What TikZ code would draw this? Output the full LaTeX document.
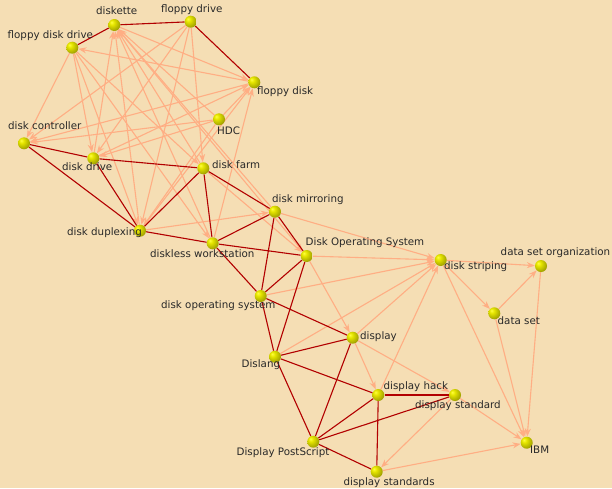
\documentclass[tikz,border=0pt]{standalone}
\usepackage{fontspec}
\setmainfont{DejaVu Sans}
\usetikzlibrary{arrows.meta}
\definecolor{bgc}{RGB}{245,222,180}
\definecolor{redE}{RGB}{178,0,0}
\definecolor{orE}{RGB}{255,174,132}
\definecolor{txt}{RGB}{40,40,40}
\definecolor{ballc}{RGB}{200,200,0}
\pgfdeclareradialshading{yball}{\pgfpoint{-12bp}{12bp}}{color(0bp)=(yellow!75!white); color(10bp)=(yellow!90!black); color(30bp)=(ballc!82!black); color(50bp)=(ballc!50!black); color(70bp)=(ballc!40!black)}
\pgfdeclarelayer{bg}\pgfdeclarelayer{edges}\pgfsetlayers{bg,edges,main}
\begin{document}
\begin{tikzpicture}[x=1pt,y=-1pt,
  vtx/.style={circle,inner sep=0pt,minimum size=12pt,shading=yball},
  lbl/.style={anchor=west,inner sep=0pt,font=\fontsize{10.3}{12}\selectfont,text=txt},
  rl/.style={draw=redE,line width=1.1pt},
  ol/.style={draw=orE,line width=1.1pt,-{Stealth[length=8pt,width=6pt]}}]
\begin{pgfonlayer}{bg}
\fill[bgc] (0,0) rectangle (612,488);
\end{pgfonlayer}
\useasboundingbox (0,0) rectangle (612,488);
% vertices
\node[vtx] (dskt) at (114.3,25) {};
\node[vtx] (fdrv) at (190.7,21.7) {};
\node[vtx] (fdd) at (72.3,47.7) {};
\node[vtx] (fdisk) at (254.3,82.3) {};
\node[vtx] (hdc) at (219,119.3) {};
\node[vtx] (dc) at (24,143.3) {};
\node[vtx] (dd) at (93.3,158.3) {};
\node[vtx] (df) at (203.3,168.3) {};
\node[vtx] (dx) at (140,230.7) {};
\node[vtx] (dw) at (212.7,243.3) {};
\node[vtx] (dm) at (275,211.7) {};
\node[vtx] (DOS) at (306.7,256) {};
\node[vtx] (dstr) at (440.7,260) {};
\node[vtx] (dso) at (541,266) {};
\node[vtx] (ds) at (494.3,313.3) {};
\node[vtx] (ibm) at (526.7,442.7) {};
\node[vtx] (dstd) at (455,395) {};
\node[vtx] (dos) at (260.7,296) {};
\node[vtx] (disp) at (352.7,337.7) {};
\node[vtx] (disl) at (275,356.7) {};
\node[vtx] (dh) at (378.3,395) {};
\node[vtx] (dps) at (313.3,441.7) {};
\node[vtx] (dstds) at (376.7,471.7) {};
% labels
\node[lbl] (l-dskt) at (96,11) {diskette};
\node[lbl] (l-fdrv) at (161,10) {floppy drive};
\node[lbl] (l-fdd) at (7.5,36) {floppy disk drive};
\node[lbl] (l-fdisk) at (257,92) {floppy disk};
\node[lbl] (l-hdc) at (217,131) {HDC};
\node[lbl] (l-dc) at (8,126) {disk controller};
\node[lbl] (l-dd) at (62,167) {disk drive};
\node[lbl] (l-df) at (212,165) {disk farm};
\node[lbl] (l-dm) at (272,200) {disk mirroring};
\node[lbl] (l-dx) at (67,233) {disk duplexing};
\node[lbl] (l-dw) at (150,254) {diskless workstation};
\node[lbl] (l-DOS) at (305.5,243) {Disk Operating System};
\node[lbl] (l-dstr) at (444,267) {disk striping};
\node[lbl] (l-dso) at (500.5,253) {data set organization};
\node[lbl] (l-ds) at (497.5,321) {data set};
\node[lbl] (l-dos) at (161,305.5) {disk operating system};
\node[lbl] (l-disp) at (360,337) {display};
\node[lbl] (l-disl) at (241.5,365) {Dislang};
\node[lbl] (l-dh) at (383.5,386.5) {display hack};
\node[lbl] (l-dstd) at (415,406) {display standard};
\node[lbl] (l-ibm) at (530,450) {IBM};
\node[lbl] (l-dps) at (236.5,452.5) {Display PostScript};
\node[lbl] (l-dstds) at (343.5,482.5) {display standards};
% edges
\begin{pgfonlayer}{edges}
\foreach \s/\t in {fdrv/dc,fdrv/dd,fdrv/dx,fdrv/df,
  fdd/dc,fdd/dd,fdd/dx,fdd/df,fdd/dw,
  fdisk/fdd,fdisk/dc,dd/fdisk,
  hdc/dc,hdc/dd,hdc/dx,hdc/fdisk,hdc/dskt,
  dskt/fdisk,dskt/DOS,
  dd/dskt,dx/dskt,dw/dskt,df/dskt,dm/dskt,
  dw/fdisk,dx/fdisk,
  dx/dm,df/DOS,
  dm/dstr,DOS/dstr,dos/dstr,disl/dstr,disp/dstr,dh/dstr,
  DOS/disp,disp/dh,disp/dstd,dstd/dstds,dstds/ibm,dstd/ibm,
  dstr/ibm,ds/ibm,dso/ibm,dstr/dso,dstr/ds,ds/dso}
  \draw[ol] (\s) -- (\t);
\foreach \s/\t in {fdd/dskt,dskt/fdrv,fdrv/fdisk,dc/dd,dd/df,dc/dx,dd/dx,dx/df,
  dx/dw,df/dw,df/dm,dw/dm,dw/DOS,dw/dos,dm/dos,dm/DOS,DOS/dos,DOS/disl,
  dos/disl,dos/disp,disl/disp,disl/dh,disl/dps,disp/dps,dps/dh,dps/dstd,
  dps/dstds,dh/dstd,dh/dstds}
  \draw[rl] (\s) -- (\t);
\end{pgfonlayer}
\end{tikzpicture}
\end{document}
